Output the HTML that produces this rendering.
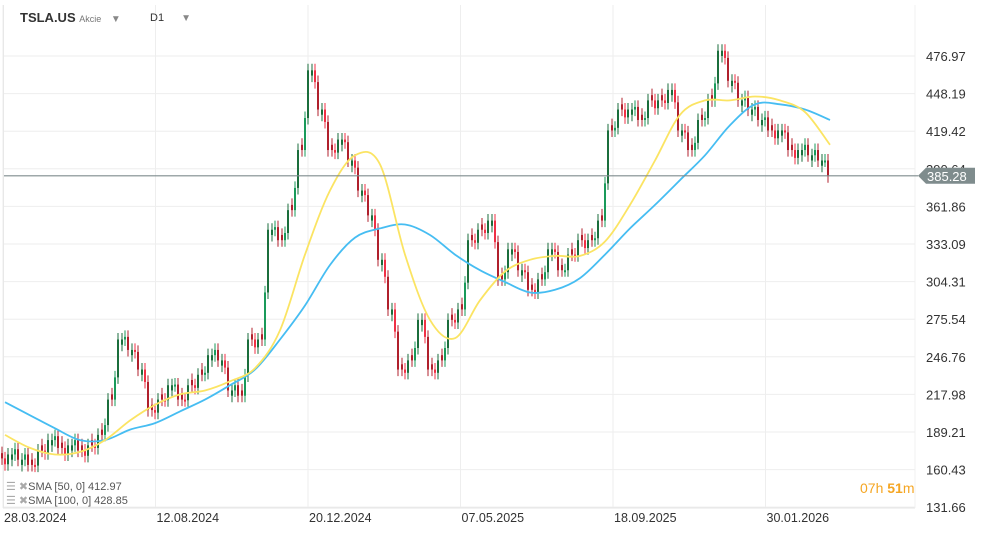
<!DOCTYPE html>
<html><head><meta charset="utf-8"><style>
body{margin:0;background:#fff;font-family:"Liberation Sans",sans-serif;}
#wrap{position:relative;width:986px;height:533px;overflow:hidden;}
</style></head><body>
<div id="wrap">
<svg id="chart" width="986" height="533"></svg>
</div>
<script>
const dateLabels=["28.03.2024","12.08.2024","20.12.2024","07.05.2025","18.09.2025","30.01.2026"];
const priceTicks=[476.97,448.19,419.42,390.64,361.86,333.09,304.31,275.54,246.76,217.98,189.21,160.43,131.66];
const closes=[172,168,164,175,183,177,179,175,179,187,214,260,252,237,206,214,225,214,225,233,248,244,221,217,260,260,344,336,359,405,466,436,405,413,397,374,355,321,283,237,244,275,237,244,275,283,336,344,351,306,329,313,298,306,329,313,325,336,336,351,420,436,436,428,443,443,451,420,405,428,443,481,458,443,436,428,420,420,405,405,401,397,385];
const sma50=[187,177,172,174,183,198,210,218,221,228,238,267,325,374,401,394,325,275,261,290,312,321,324,324,335,363,397,432,443,443,446,443,434,409];
const sma100=[212,202,192,183,183,191,196,205,214,225,237,260,286,317,338,345,348,340,325,313,304,296,298,307,325,345,363,382,401,424,440,440,436,428];
const lastPrice=385.28;

const svg=document.getElementById('chart');
const NS='http://www.w3.org/2000/svg';
function mk(t,a,p){const e=document.createElementNS(NS,t);for(const k in a)e.setAttribute(k,a[k]);(p||svg).appendChild(e);return e;}
const yP=p=>56+(476.97-p)*1.3066;
const xC=i=>5+i*10;
const xS=i=>5+i*25;
const xD=i=>3+i*152.5;

priceTicks.forEach((p,i)=>{
 const l=mk('line',{x1:3,x2:915,y1:yP(p),y2:yP(p),stroke:'#eeeeee','stroke-width':1});
 
 
 const t=mk('text',{x:926,y:yP(p)+5,'font-size':13,fill:'#333'});
 t.textContent=p.toFixed(2);
 
 
});
dateLabels.forEach((d,i)=>{
 const l=mk('line',{x1:xD(i),x2:xD(i),y1:5,y2:508,stroke:'#eeeeee','stroke-width':1});
 
 
 const t=mk('text',{x:xD(i)+1,y:522,'font-size':12.5,fill:'#333'});
 t.textContent=d;
 
 
});
const ax=mk('line',{x1:3,x2:915,y1:508,y2:508,stroke:'#e4e4e4'});


const ax2=mk('line',{x1:915,x2:915,y1:5,y2:508,stroke:'#f0f0f0'});



closes.forEach((c,i)=>{
 const o=i?closes[i-1]:c-3;
 const up=c>=o;
 const x=xC(i);
 // split each period into sub-candles for denser texture
 const mids=[o,(o+c)/2+(up?-6:6),c];
 for(let k=0;k<3;k++){
  const a=k?mids[k-1]:o+(up?4:-4), b=mids[k];
  const u=b>=a;
  const col=u?(k%2?'#1a9a5a':'#1b6e3c'):(k%2?'#f03045':'#b0202c');
  const xx=x-3+k*3;
  const hi=Math.max(a,b)+5, lo=Math.min(a,b)-5;
  const w=mk('line',{x1:xx,x2:xx,y1:yP(hi),y2:yP(lo),stroke:col,'stroke-width':1});
  
  
  const top=yP(Math.max(a,b)),bh=Math.max(2,Math.abs(yP(a)-yP(b)));
  const r=mk('rect',{x:xx-1,y:top,width:2,height:bh,fill:col});
  
  
 }
});

function line(arr,col,name){
 const pts=arr.map((v,i)=>[xS(i),yP(v)]);
 let d='M'+pts[0][0]+','+pts[0][1];
 for(let i=0;i<pts.length-1;i++){
  const p0=pts[i-1]||pts[i],p1=pts[i],p2=pts[i+1],p3=pts[i+2]||p2;
  const c1=[p1[0]+(p2[0]-p0[0])/6,p1[1]+(p2[1]-p0[1])/6];
  const c2=[p2[0]-(p3[0]-p1[0])/6,p2[1]-(p3[1]-p1[1])/6];
  d+=` C${c1[0].toFixed(1)},${c1[1].toFixed(1)} ${c2[0].toFixed(1)},${c2[1].toFixed(1)} ${p2[0]},${p2[1].toFixed(1)}`;
 }
 const p=mk('path',{d:d,fill:'none',stroke:col,'stroke-width':1.8,'stroke-linejoin':'round'});
 
 
}
line(sma100,'#46bdf2','sma-100-line');
line(sma50,'#fbe463','sma-50-line');

const ly=yP(lastPrice);
const pl=mk('line',{x1:3,x2:918,y1:ly,y2:ly,stroke:'#7f8c8d','stroke-width':1.2});


const pb=mk('path',{d:`M918,${ly} L926,${ly-8} L975,${ly-8} L975,${ly+8} L926,${ly+8} Z`,fill:'#7f8c8d'});


const pt=mk('text',{x:927,y:ly+5,'font-size':13,fill:'#fff'});
pt.textContent=lastPrice.toFixed(2);


</script>
<div style="position:absolute;left:3px;top:5px;width:1px;height:503px;background:#e8e8e8"></div>
<div style="position:absolute;left:20px;top:10px;font-size:13px;font-weight:bold;color:#333">TSLA.US <span style="font-size:9px;font-weight:normal;color:#777">Akcie</span> <span style="font-size:10px;color:#888;margin-left:6px">▼</span></div>
<div style="position:absolute;left:150px;top:12px;font-size:11px;color:#333">D1 <span style="font-size:10px;color:#888;margin-left:14px">▼</span></div>
<div style="position:absolute;left:6px;top:480px;font-size:11px;color:#555"><span style="color:#aaa">☰ ✖</span>SMA [50, 0] 412.97</div>
<div style="position:absolute;left:6px;top:494px;font-size:11px;color:#555"><span style="color:#aaa">☰ ✖</span>SMA [100, 0] 428.85</div>
<div style="position:absolute;left:860px;top:480px;font-size:14px;color:#f5a623">07h <b>51</b>m</div>
</body></html>
